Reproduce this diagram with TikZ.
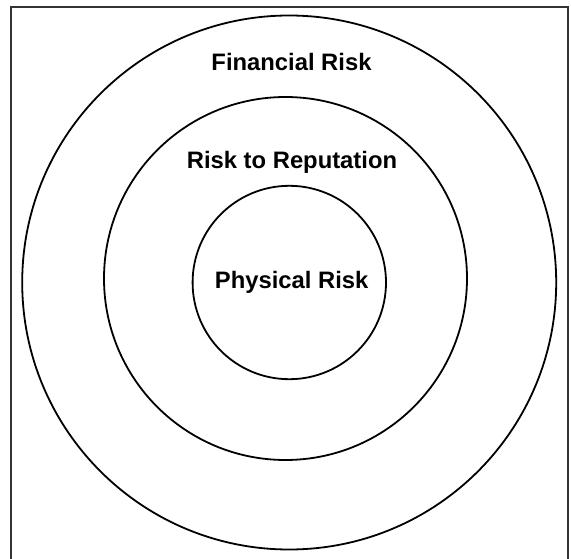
\documentclass[tikz,border=0pt]{standalone}
\usepackage{fontspec}
\setmainfont{Liberation Sans}
\usepackage{tikz}

\begin{document}
\begin{tikzpicture}[x=1pt, y=-1pt,
        ring/.style={draw=black, line width=1.8pt, circle, inner sep=0pt},
        risklabel/.style={anchor=base, inner sep=0pt, font=\fontsize{23.8}{28}\selectfont\bfseries}]
        \useasboundingbox (0,0) rectangle (571,559);
        % frame, open at the bottom
        \draw[line width=2pt, color={rgb,255:red,51;green,51;blue,51}](11,560)--(11,7)--(568,7)--(568,560);
        % rings
        \node[ring, minimum size=534pt] (financial) at (289.2,282.5){};
        \node[ring, minimum size=363pt] (reputation) at (285.5,278.5){};
        \node[ring, minimum size=193.4pt] (physical) at (289.3,282.5){};
        % labels
        \node[risklabel] (financialtext) at (291.5,71){Financial Risk};
        \node[risklabel] (reputationtext) at (292,168.3){Risk to Reputation};
        \node[risklabel] (physicaltext) at (291.7,288.3){Physical Risk};
    \end{tikzpicture}
\end{document}
